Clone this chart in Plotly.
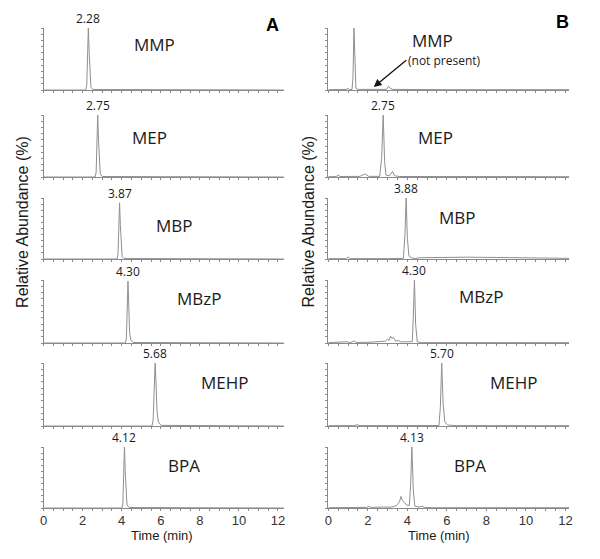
import plotly.graph_objects as go

# ---------------- data ----------------
compounds = ["MMP", "MEP", "MBP", "MBzP", "MEHP", "BPA"]
rt_labels_a = ["2.28", "2.75", "3.87", "4.30", "5.68", "4.12"]
rt_labels_b = [None, "2.75", "3.88", "4.30", "5.70", "4.13"]
x_ticks = [0, 2, 4, 6, 8, 10, 12]

# Panel A (standards)
a_mmp_t = [0, 2.16, 2.21, 2.25, 2.29, 2.33, 2.37, 2.42, 2.52, 12.3]
a_mmp_v = [0, 0, 8, 55, 100, 62, 18, 5, 0.8, 0]
a_mep_t = [0, 2.64, 2.69, 2.73, 2.77, 2.81, 2.85, 2.90, 3.00, 12.3]
a_mep_v = [0, 0, 8, 55, 100, 60, 18, 5, 0.8, 0]
a_mbp_t = [0, 3.76, 3.81, 3.85, 3.89, 3.93, 3.97, 4.02, 4.12, 12.3]
a_mbp_v = [0, 0, 8, 50, 92, 55, 16, 4, 0.8, 0]
a_mbzp_t = [0, 4.19, 4.24, 4.28, 4.32, 4.36, 4.40, 4.46, 4.58, 12.3]
a_mbzp_v = [0, 0, 8, 55, 98, 60, 18, 5, 0.8, 0]
a_mehp_t = [0, 5.55, 5.61, 5.66, 5.71, 5.76, 5.81, 5.88, 6.02, 12.3]
a_mehp_v = [0, 0, 10, 60, 100, 65, 22, 6, 1, 0]
a_bpa_t = [0, 4.01, 4.06, 4.10, 4.14, 4.18, 4.22, 4.27, 4.38, 12.3]
a_bpa_v = [0, 0, 8, 55, 100, 60, 18, 5, 0.8, 0]

# Panel B (sample)
b_mmp_t = [0, 0.5, 0.9, 1.0, 1.08, 1.2, 1.25, 1.3, 1.35, 1.4, 1.5, 2.0, 2.5,
           2.95, 3.05, 3.12, 3.25, 4.0, 6.0, 8.0, 12.2]
b_mmp_v = [0.5, 0.5, 0.8, 2.5, 0.8, 0.8, 20, 100, 30, 3, 1, 0.8, 0.8,
           1, 6, 3, 1, 0.6, 0.5, 0.5, 0.5]
b_mep_t = [0, 0.4, 0.5, 0.6, 1.6, 1.75, 1.85, 1.95, 2.05, 2.6, 2.7, 2.78,
           2.85, 2.92, 3.1, 3.25, 3.35, 3.6, 5.0, 12.2]
b_mep_v = [0.5, 0.6, 3, 0.8, 1, 4, 5, 3, 1, 1, 30, 100,
           25, 3, 2, 9, 2, 0.8, 0.6, 0.5]
b_mbp_t = [0, 0.9, 1.0, 1.1, 3.0, 3.8, 3.88, 3.94, 4.0, 4.08, 4.2, 4.4,
           4.6, 5.5, 7.0, 8.5, 10.0, 11.0, 12.2]
b_mbp_v = [0.5, 0.6, 3.5, 0.6, 0.6, 1, 40, 100, 35, 5, 2, 0.5,
           2, 2.5, 3, 2.5, 1.5, 1, 1]
b_mbzp_t = [0, 0.8, 0.95, 1.05, 1.2, 1.3, 1.4, 2.0, 2.6, 2.9, 3.0, 3.08,
            3.15, 3.22, 3.3, 3.4, 3.55, 3.7, 3.85, 4.25, 4.3, 4.36, 4.42,
            4.5, 4.7, 6.0, 12.2]
b_mbzp_v = [0.5, 0.8, 2, 0.8, 1.5, 3.5, 1, 1, 2, 3, 6, 4,
            11, 7, 9, 3, 4, 1.5, 2, 2, 40, 100, 30,
            2, 0.6, 0.5, 0.5]
b_mehp_t = [0, 1.3, 1.45, 1.6, 5.6, 5.67, 5.74, 5.81, 5.9, 6.05, 6.5, 12.2]
b_mehp_v = [0.5, 0.6, 2, 0.6, 0.8, 30, 100, 35, 6, 1.5, 0.6, 0.5]
b_bpa_t = [0, 1.5, 1.95, 2.05, 2.15, 2.8, 3.0, 3.2, 3.45, 3.6, 3.68, 3.75,
           3.85, 3.95, 4.1, 4.17, 4.23, 4.3, 4.38, 4.6, 4.75, 4.85, 5.0,
           5.2, 12.2]
b_bpa_v = [0.5, 0.6, 1, 2.5, 1, 1.5, 2, 1.5, 4, 10, 19, 12,
           9, 5, 4, 40, 100, 30, 3, 1.5, 3, 1, 1,
           0.5, 0.5]

panel_a = [(a_mmp_t, a_mmp_v), (a_mep_t, a_mep_v), (a_mbp_t, a_mbp_v),
           (a_mbzp_t, a_mbzp_v), (a_mehp_t, a_mehp_v), (a_bpa_t, a_bpa_v)]
panel_b = [(b_mmp_t, b_mmp_v), (b_mep_t, b_mep_v), (b_mbp_t, b_mbp_v),
           (b_mbzp_t, b_mbzp_v), (b_mehp_t, b_mehp_v), (b_bpa_t, b_bpa_v)]

# ---------------- layout geometry (pixels, in screenshot coords) ----------------
W, H = 600, 559
OFF = 8  # default page body margin shifts the figure by this many pixels
row_tops = [28, 115, 198, 280, 363, 447]
row_bots = [90, 177, 259, 343, 426, 508]
col_x = [(40, 283, 12.3), (328, 572, 12.2)]
name_pos_a = [(152, 45), (147, 137), (172, 225), (197, 298), (224, 382), (182, 465)]
name_pos_b = [(433, 40), (436, 137), (459, 217), (483, 297), (516, 382), (471, 465)]

LINE = "#8f8f8f"
AXIS = "#8a8a8a"
TXT = "#1a1a1a"
FONT = "Open Sans"
ARIAL = "Liberation Sans"

fig = go.Figure()
layout = {}
annotations = []

def px(x):
    return (x - OFF) / W

def py(y):
    return 1 - (y - OFF) / H

def note(x, y, text, font, **kw):
    d = dict(x=px(x), y=py(y), xref="paper", yref="paper", text=text,
             showarrow=False, xanchor="center", yanchor="middle", font=font)
    d.update(kw)
    annotations.append(d)

idx = 0
for c, (panel, labels, names) in enumerate([(panel_a, rt_labels_a, name_pos_a),
                                            (panel_b, rt_labels_b, name_pos_b)]):
    x0, x1, xmax = col_x[c]
    for r in range(6):
        idx += 1
        sfx = "" if idx == 1 else str(idx)
        t, v = panel[r]
        fig.add_trace(go.Scatter(x=t, y=v, mode="lines",
                                 line=dict(color=LINE, width=1),
                                 xaxis="x" + sfx, yaxis="y" + sfx,
                                 showlegend=False, hoverinfo="skip"))
        bottom = r == 5
        layout["xaxis" + sfx] = dict(
            domain=[px(x0), px(x1)], range=[0, xmax], anchor="y" + sfx,
            showline=True, linecolor=AXIS, linewidth=1, showgrid=False,
            zeroline=False, tickvals=x_ticks, ticks="", showticklabels=bottom,
            tickfont=dict(family=ARIAL, size=13, color="#333333"),
            minor=dict(dtick=0.5, ticks="outside", ticklen=2, tickcolor=AXIS),
        )
        layout["yaxis" + sfx] = dict(
            domain=[py(row_bots[r]), py(row_tops[r])], range=[0, 100],
            anchor="x" + sfx, showline=True, linecolor=AXIS, linewidth=1,
            showgrid=False, zeroline=False, dtick=10, ticks="outside",
            ticklen=2, tickcolor=AXIS, showticklabels=False,
        )
        # retention-time label
        if labels[r] is not None:
            apex = t[v.index(max(v))]
            annotations.append(dict(
                x=apex, y=max(v), xref="x" + sfx, yref="y" + sfx,
                text=labels[r], showarrow=False, xanchor="center",
                yanchor="bottom", yshift=-1,
                font=dict(family=FONT, size=12, color=TXT)))
        # compound name
        nx, ny = names[r]
        note(nx, ny, compounds[r], dict(family=FONT, size=17, color=TXT))

# panel letters
note(272, 25, "<b>A</b>", dict(family=ARIAL, size=18, color="#000"))
note(565, 22, "<b>B</b>", dict(family=ARIAL, size=18, color="#000"))
# (not present) note and arrow
note(446, 61, "(not present)", dict(family=FONT, size=12, color=TXT))
annotations.append(dict(x=px(374), y=py(87), xref="paper", yref="paper",
                        ax=34, ay=-28, axref="pixel", ayref="pixel",
                        text="", showarrow=True, arrowhead=2, arrowsize=1.2,
                        arrowwidth=1.3, arrowcolor="#111"))
# axis titles
for xc in (160, 440):
    note(xc, 535, "Time (min)", dict(family=ARIAL, size=13, color=TXT))
for xc in (18, 307):
    note(xc, 222, "Relative Abundance (%)", dict(family=ARIAL, size=16, color=TXT),
         textangle=-90)

fig.update_layout(width=W, height=H, margin=dict(l=0, r=0, t=0, b=0),
                  paper_bgcolor="white", plot_bgcolor="white",
                  annotations=annotations, **layout)
fig.write_html("out.html")
